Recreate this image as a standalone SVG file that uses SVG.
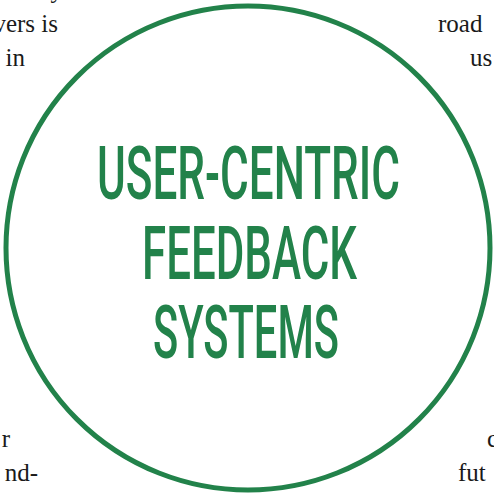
<svg xmlns="http://www.w3.org/2000/svg" width="494" height="495" viewBox="0 0 494 495">
<style>
.body{font-family:"Liberation Serif","DejaVu Serif",serif;font-size:25px;fill:#1a1a1a}
.title{font-family:Roboto,"Liberation Sans",sans-serif;font-size:75px;font-weight:500;fill:#22824a}
</style>
<rect width="494" height="495" fill="#ffffff"/>
<g id="body-text">
<text class="body" x="63" y="-2" text-anchor="end">y</text>
<text class="body" x="58" y="32" text-anchor="end">vers is</text>
<text class="body" x="25" y="66" text-anchor="end">in</text>
<text class="body" x="438" y="32">road</text>
<text class="body" x="470" y="66">us</text>
<text class="body" x="10" y="447" text-anchor="end">r</text>
<text class="body" x="38" y="481" text-anchor="end">nd-</text>
<text class="body" x="487" y="447">c</text>
<text class="body" x="458" y="481">fut</text>
</g>
<g id="circle-node">
<circle cx="248" cy="248" r="242" fill="#ffffff" stroke="#22824a" stroke-width="5"/>
<text class="title" x="97" y="199" textLength="303" lengthAdjust="spacingAndGlyphs">USER-CENTRIC</text>
<text class="title" x="142" y="279" textLength="215" lengthAdjust="spacingAndGlyphs">FEEDBACK</text>
<text class="title" x="153" y="358" textLength="186" lengthAdjust="spacingAndGlyphs">SYSTEMS</text>
</g>
</svg>
